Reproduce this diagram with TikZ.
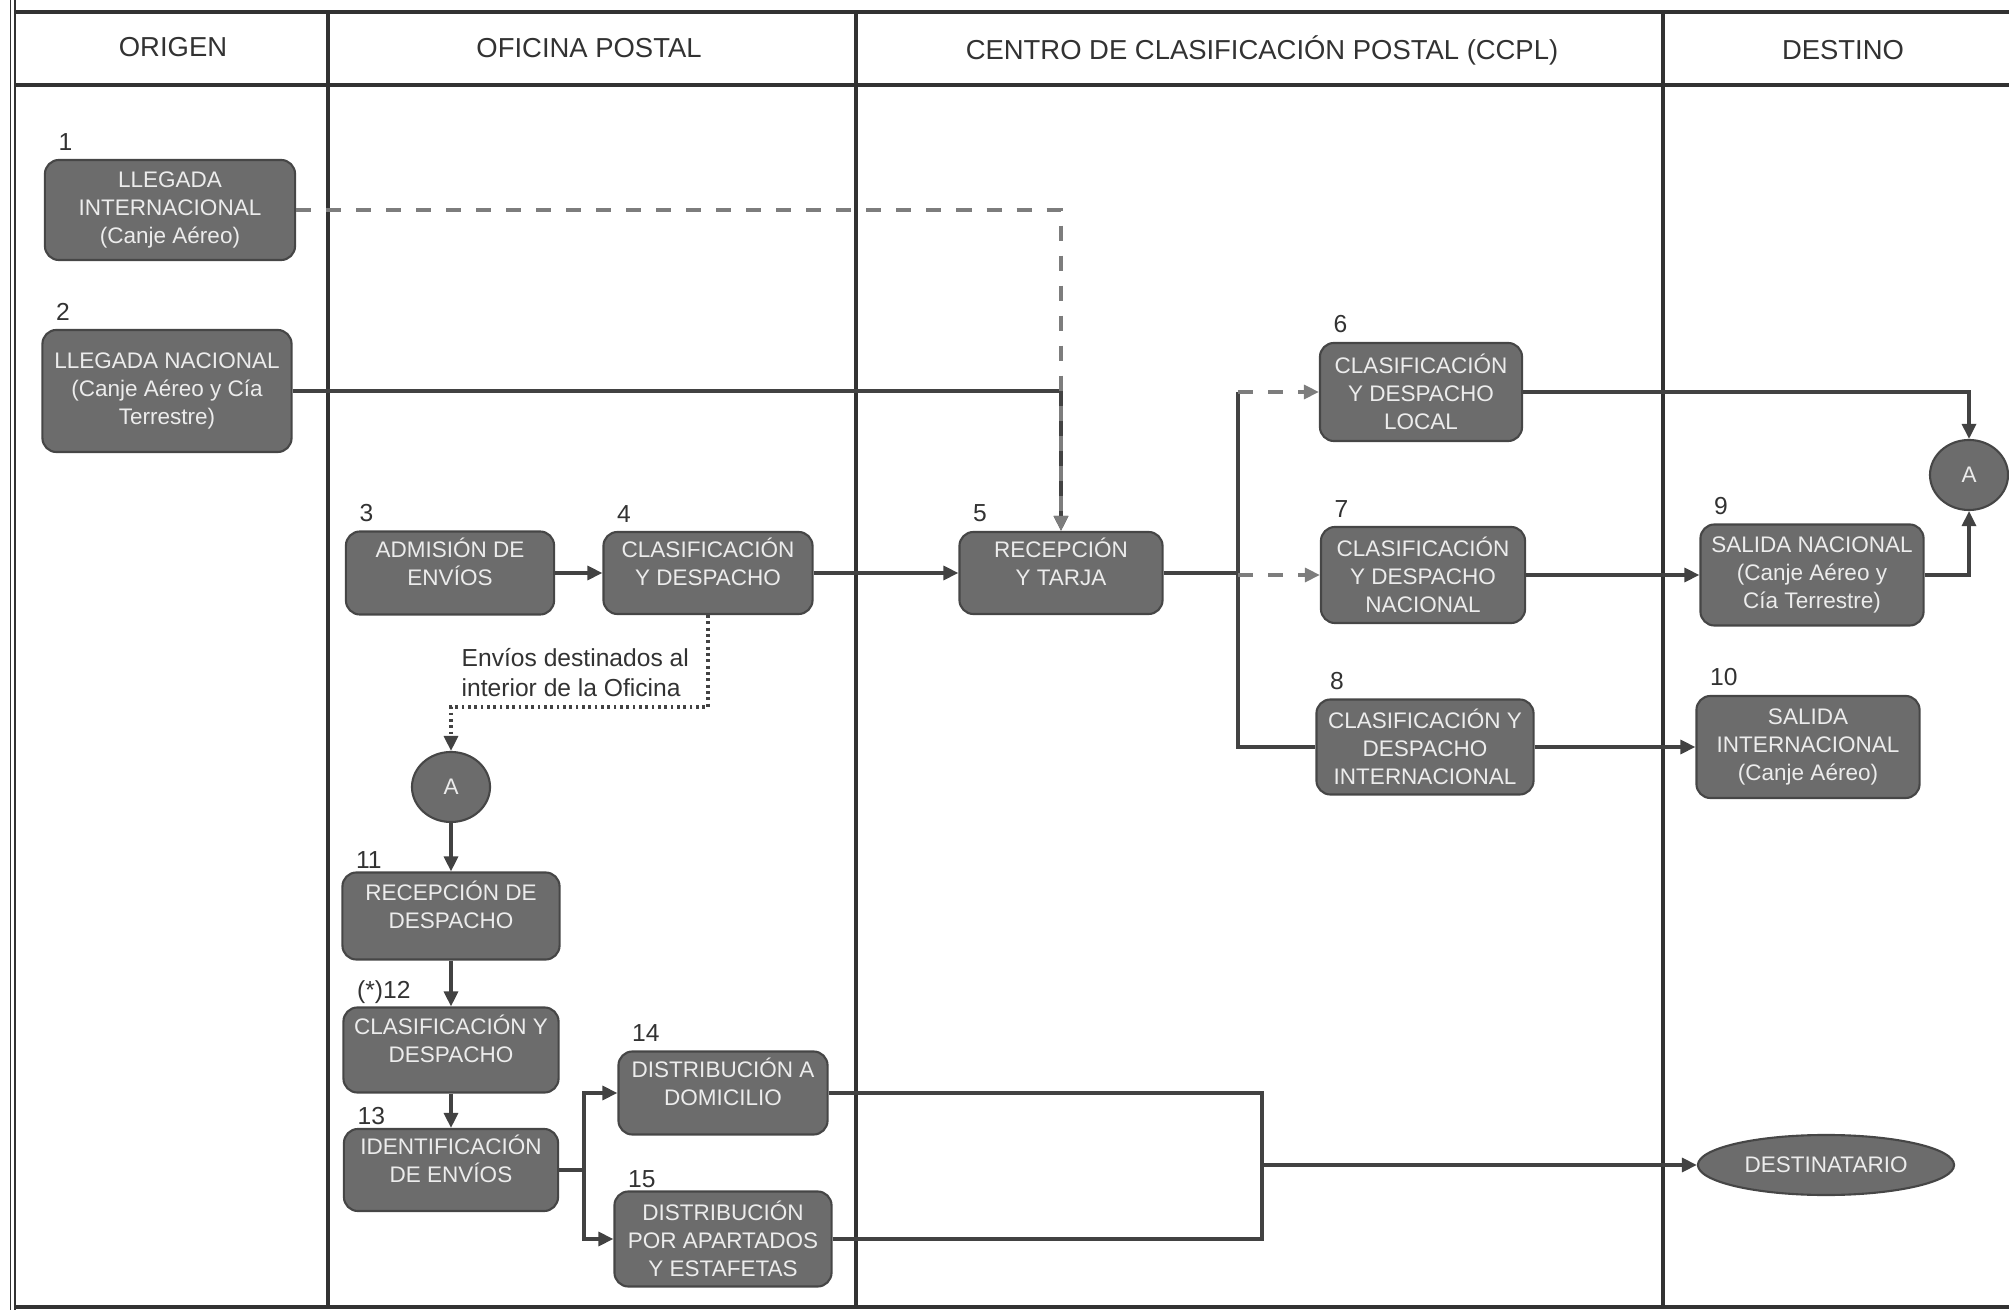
\documentclass[tikz,border=0pt]{standalone}
\usepackage{fontspec}
\setmainfont{Liberation Sans}
\usetikzlibrary{arrows.meta,shapes.geometric}
\definecolor{caja}{RGB}{108,108,108}
\definecolor{borde}{RGB}{70,70,70}
\definecolor{trazo}{RGB}{66,66,66}
\definecolor{gris}{RGB}{125,125,125}
\definecolor{letra}{RGB}{236,236,236}
\definecolor{tinta}{RGB}{50,50,50}

\begin{document}
\begin{tikzpicture}[x=0.01cm, y=-0.01cm,
    paso/.style={draw=borde, line width=0.6pt, fill=caja, rounded corners=0.14cm,
        text=letra, align=center, inner sep=0pt, font=\fontsize{6.4}{8}\selectfont},
    dos/.style={text depth=0.22cm},
    conector/.style={ellipse, draw=borde, line width=0.6pt, fill=caja, text=letra,
        inner sep=0pt, font=\fontsize{6.4}{8}\selectfont},
    num/.style={anchor=south west, xshift=0.14cm, yshift=0.08cm, inner sep=0pt,
        text=tinta, font=\fontsize{7}{8}\selectfont},
    numcerca/.style={num, yshift=-0.06cm},
    carril/.style={text=tinta, font=\fontsize{7.8}{9}\selectfont},
    marco/.style={draw=tinta, line width=1pt},
    linea/.style={draw=trazo, line width=0.9pt},
    flecha/.style={linea, -{Triangle[length=0.15cm, width=0.14cm]}},
    discont/.style={draw=gris, dash pattern=on 0.15cm off 0.15cm},
    punteada/.style={draw=trazo, line width=0.9pt, dash pattern=on 0.8pt off 1pt}]
    \useasboundingbox (0,0) rectangle (2009,1310);

    % Frame and swimlanes
    \draw[tinta, line width=0.5pt] (10.5,0) -- (10.5,1310);
    \draw[tinta, line width=0.5pt] (15,0) -- (15,1310);
    \draw[marco] (15,12) -- (2009,12);
    \draw[marco, line width=1.2pt] (15,85) -- (2009,85);
    \draw[marco] (15,1307) -- (2009,1307);
    \foreach \x in {328,856,1663} \draw[marco, line width=0.9pt] (\x,12) -- (\x,1307);
    \node[carril] (hOrigen)  at (173,47)  {ORIGEN};
    \node[carril] (hOficina) at (589,48)  {OFICINA POSTAL};
    \node[carril] (hCentro)  at (1262,50) {CENTRO DE CLASIFICACIÓN POSTAL (CCPL)};
    \node[carril] (hDestino) at (1843,50) {DESTINO};

    % Steps
    \node[paso, minimum width=2.50cm, minimum height=1.00cm, label={[num]north west:1}]
        (n1) at (170,210) {LLEGADA\\INTERNACIONAL\\(Canje Aéreo)};
    \node[paso, minimum width=2.49cm, minimum height=1.22cm, label={[num]north west:2}]
        (n2) at (167,391) {LLEGADA NACIONAL\\(Canje Aéreo y Cía\\Terrestre)};
    \node[paso, dos, minimum width=2.08cm, minimum height=0.83cm, label={[num]north west:3}]
        (n3) at (450,573) {ADMISIÓN DE\\ENVÍOS};
    \node[paso, dos, minimum width=2.09cm, minimum height=0.82cm, label={[num]north west:4}]
        (n4) at (708,573) {CLASIFICACIÓN\\Y DESPACHO};
    \node[paso, dos, minimum width=2.03cm, minimum height=0.82cm, label={[num]north west:5}]
        (n5) at (1061,573) {RECEPCIÓN\\Y TARJA};
    \node[paso, minimum width=2.02cm, minimum height=0.98cm, label={[num]north west:6}]
        (n6) at (1421,392) {CLASIFICACIÓN\\Y DESPACHO\\LOCAL};
    \node[paso, minimum width=2.04cm, minimum height=0.96cm, label={[num]north west:7}]
        (n7) at (1423,575) {CLASIFICACIÓN\\Y DESPACHO\\NACIONAL};
    \node[paso, minimum width=2.17cm, minimum height=0.95cm, label={[num]north west:8}]
        (n8) at (1425,747) {CLASIFICACIÓN Y\\DESPACHO\\INTERNACIONAL};
    \node[paso, minimum width=2.23cm, minimum height=1.01cm, label={[num]north west:9}]
        (n9) at (1812,575) {SALIDA NACIONAL\\(Canje Aéreo y\\Cía Terrestre)};
    \node[paso, minimum width=2.23cm, minimum height=1.02cm, label={[num]north west:10}]
        (n10) at (1808,747) {SALIDA\\INTERNACIONAL\\(Canje Aéreo)};
    \node[paso, dos, minimum width=2.17cm, minimum height=0.87cm, label={[numcerca]north west:11}]
        (n11) at (451,916) {RECEPCIÓN DE\\DESPACHO};
    \node[paso, dos, minimum width=2.15cm, minimum height=0.85cm, label={[numcerca]north west:(*)12}]
        (n12) at (451,1050) {CLASIFICACIÓN Y\\DESPACHO};
    \node[paso, dos, minimum width=2.14cm, minimum height=0.82cm, label={[numcerca]north west:13}]
        (n13) at (451,1170) {IDENTIFICACIÓN\\DE ENVÍOS};
    \node[paso, dos, minimum width=2.09cm, minimum height=0.83cm, label={[num]north west:14}]
        (n14) at (723,1093) {DISTRIBUCIÓN A\\DOMICILIO};
    \node[paso, minimum width=2.17cm, minimum height=0.95cm, label={[numcerca]north west:15}]
        (n15) at (723,1239) {DISTRIBUCIÓN\\POR APARTADOS\\Y ESTAFETAS};

    % Connectors A and recipient
    \node[conector, minimum width=0.78cm, minimum height=0.70cm] (aOfi) at (451,787) {A};
    \node[conector, minimum width=0.78cm, minimum height=0.70cm] (aDes) at (1969,475) {A};
    \node[conector, minimum width=2.56cm, minimum height=0.60cm] (dest) at (1826,1165) {DESTINATARIO};

    % Arrivals into the CCPL
    \draw[flecha] (n2.east) -| (n5.north);
    \draw[flecha, discont] (n1.east) -| (n5.north);
    \draw[flecha] (n3) -- (n4);
    \draw[flecha] (n4) -- (n5);

    % Sorting branches
    \coordinate (rama) at (1238,573);
    \draw[linea] (n5.east) -- (rama);
    \draw[linea] (rama |- n6.west) -- (rama |- n8.west) -- (n8.west);
    \draw[flecha, discont] (rama |- n6.west) -- (n6.west);
    \draw[flecha, discont] (rama |- n7.west) -- (n7.west);
    \draw[flecha] (n7) -- (n9);
    \draw[flecha] (n8) -- (n10);
    \draw[flecha] (n6.east) -| (aDes.north);
    \draw[flecha] (n9.east) -| (aDes.south);

    % Mail for the office itself
    \coordinate (giro) at (451,707);
    \draw[punteada, -{Triangle[length=0.15cm, width=0.14cm]}] (n4.south) |- (giro) -- (aOfi.north);
    \node[anchor=west, align=left, inner sep=0pt, text=tinta, font=\fontsize{7}{8.5}\selectfont]
        (nota) at (461,673) {Envíos destinados al\\interior de la Oficina};
    \draw[flecha] (aOfi) -- (n11);
    \draw[flecha] (n11) -- (n12);
    \draw[flecha] (n12) -- (n13);

    % Delivery
    \coordinate (bif) at (584,1170);
    \coordinate (junta) at (1262,1165);
    \draw[linea] (n13.east) -- (bif);
    \draw[flecha] (bif) |- (n14.west);
    \draw[flecha] (bif) |- (n15.west);
    \draw[linea] (n14.east) -| (junta);
    \draw[linea] (n15.east) -| (junta);
    \draw[flecha] (junta) -- (dest.west);
\end{tikzpicture}
\end{document}
